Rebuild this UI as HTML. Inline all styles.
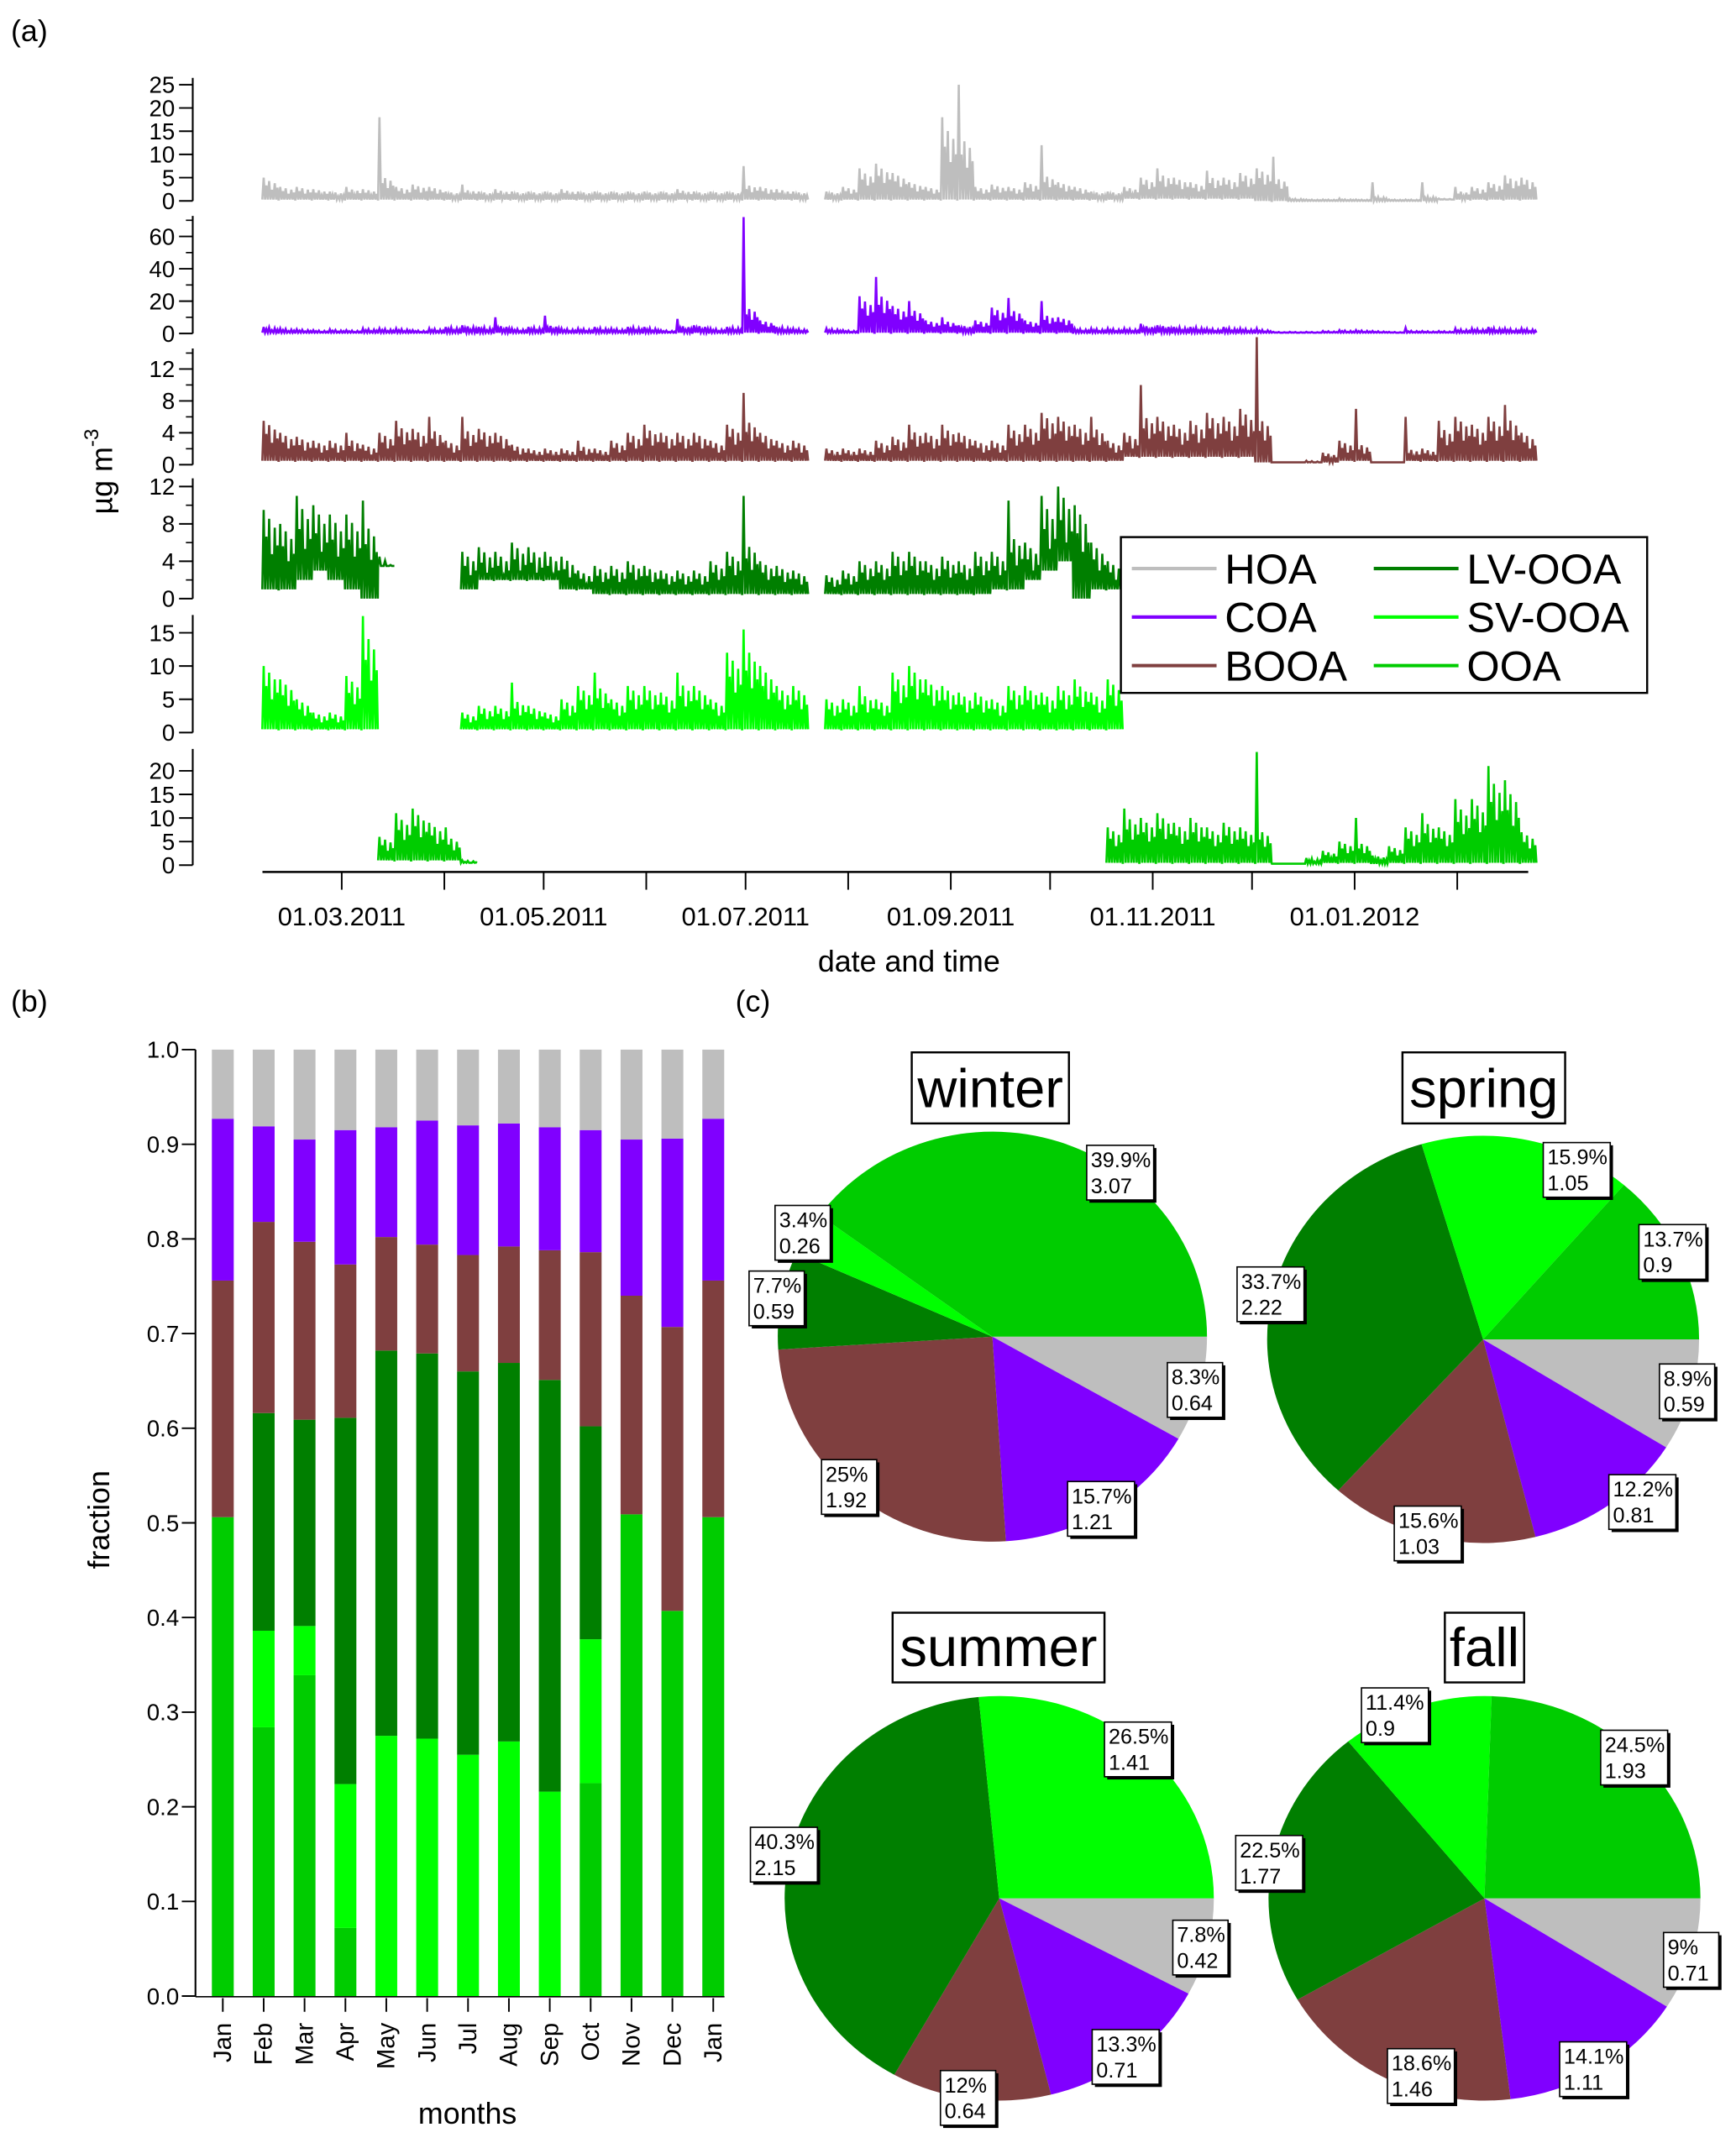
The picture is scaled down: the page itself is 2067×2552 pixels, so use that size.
<!DOCTYPE html>
<html><head><meta charset="utf-8"><style>
html,body{margin:0;padding:0;background:#fff;}
svg{display:block;font-family:"Liberation Sans",sans-serif;}
</style></head><body>
<svg id="fig" width="2067" height="2552" viewBox="0 0 1270 1568" preserveAspectRatio="none" xmlns="http://www.w3.org/2000/svg">
<rect width="1270" height="1568" fill="#fff"/>
<text x="8" y="30" font-size="22">(a)</text>
<text x="8" y="740" font-size="22">(b)</text>
<text x="538" y="740" font-size="22">(c)</text>
<g id="pa"></g>
<g id="pb"></g>
<g id="pc"></g>
</svg>
<script>
// ---------- panel (a) data: 5-day bins starting 5 Feb 2011 ----------
const binStartDay = 4, binDays = 5;
const hoaHi = [5,3,3,2.5,2,3,2.5,18,3,3.5,3,2,3.5,2,2.5,2,2,2,2.5,2,2,2,2,2,2,2.5,2,2,2,7.5,3,2.5,2,null,2,3,7,8,6,4,3,18,25,3,3.5,3,4,12,4,3,2,2,3,5,7,5,4,6.5,5,6,7,9.5,0.5,0.3,0.3,0.5,0.3,4,0.3,0.3,4,0.5,3,3,4,5.5,5,3];
const hoaLo = [0.3,0.3,0.3,0.3,0.3,0.3,0.3,0.3,0.3,0.3,0.3,0.3,0.3,0.3,0.3,0.3,0.3,0.3,0.3,0.3,0.3,0.3,0.3,0.3,0.3,0.3,0.3,0.3,0.3,0.3,0.3,0.3,0.3,null,0.3,0.3,0.3,0.3,0.3,0.3,0.3,0.3,0.3,0.3,0.3,0.3,0.3,0.3,0.3,0.3,0.3,0.3,0.5,0.5,0.5,0.5,0.5,0.5,0.5,0.5,0,0,0,0,0,0,0,0,0,0,0,0.3,0.3,0.3,0.3,0.3,0.3];
const coaHi = [4,3,2.5,2,2.5,2,3,3,3,2,3,4,5,4,10,3,4,11,3,3,4,3,4,4,2,9,5,3,4,72,8,4,3,null,3,2,23,35,17,20,8,10,5,8,16,22,8,20,10,3,3,3,3,6,5,4,4,3,4,3,3,1,1,1,1.5,2,2,1.5,1,3.5,1.5,1.5,3,3,4,3,3];
const coaLo = [0.5,0.5,0.5,0.5,0.5,0.5,0.5,0.5,0.5,0.5,0.5,0.5,0.5,0.5,0.5,0.5,0.5,0.5,0.5,0.5,0.5,0.5,0.5,0.5,0.5,0.5,0.5,0.5,0.5,0.5,0.5,0.5,0.5,null,0.5,0.5,0.5,0.5,0.5,0.5,0.5,0.5,0.5,0.5,0.5,0.5,0.5,0.5,0.5,0.5,0.5,0.5,0.5,0.5,0.5,0.5,0.5,0.5,0.5,0.5,0.5,0.5,0.5,0.5,0.5,0.5,0.5,0.5,0.5,0.5,0.5,0.5,0.5,0.5,0.5,0.5,0.5];
const booaHi = [5.5,4,3.5,3,3,4,2.5,4,5.5,4.5,6,3,6,4.5,4,2.5,2,2,2,3,2,3,4,5,4,4,4,3,5,9,4,3,3,null,2,2,2,3,3.5,5,4,5,4,3,3,5,5,6.5,6,5,6,3,4,10,6,5,5.5,6.5,6,7,16,0.3,0.3,0.5,1.5,3,7,0.3,0.3,6,2,5.5,6,5,6,7.5,4];
const booaLo = [0.5,0.5,0.5,0.5,0.5,0.5,0.5,0.5,0.5,0.5,0.5,0.5,0.5,0.5,0.5,0.5,0.5,0.5,0.5,0.5,0.5,0.5,0.5,0.5,0.5,0.5,0.5,0.5,0.5,0.5,0.5,0.5,0.5,null,0.5,0.5,0.5,0.5,0.5,0.5,0.5,0.5,0.5,0.5,0.5,0.5,0.5,0.5,0.5,0.5,0.5,0.5,1,1,1,1,1,1,1,1,0.3,0.3,0.3,0.3,0.3,0.5,0.5,0.3,0.3,0.5,0.5,0.5,0.5,0.5,0.5,0.5,0.5];
const lvHi = [9.5,8,11,10,9,9,10.5,4.5,null,null,null,null,5,5.5,5,6,5.5,5,4.5,3,3.5,3.5,4,3.5,3,3,3,4,5,11,4,3.5,3,null,2.5,3,4,4,5,5,4,4.5,4,5,5,10.5,6,11,12,10,6,4,null,null,null,null,null,null,null,null,null,null,null,null,null,null,null,null,null,null,null,null,null,null,null,null,null];
const lvLo = [1,1,2,3,2,1,0,3.5,null,null,null,null,1,2,2,2,2,2,1,1,0.5,0.5,0.5,0.5,0.5,0.5,0.5,0.5,0.5,0.5,0.5,0.5,0.5,null,0.5,0.5,0.5,0.5,0.5,0.5,0.5,0.5,0.5,0.5,1,1,2,3,4,0,1,1,null,null,null,null,null,null,null,null,null,null,null,null,null,null,null,null,null,null,null,null,null,null,null,null,null];
const svHi = [10,8,5,3,3,8.5,17.5,null,null,null,null,null,3,4,4,7.5,4,3,5,7,9,5,7,7,6,9,7,5,12,15.5,10,7,7,null,5,5,7,5,9,10,8,7,6,6,5,7,7,6,7,8,6,8,null,null,null,null,null,null,null,null,null,null,null,null,null,null,null,null,null,null,null,null,null,null,null,null,null];
const svLo = [0.5,0.5,0.5,0.5,0.5,0.5,0.5,null,null,null,null,null,0.5,0.5,0.5,0.5,0.5,0.5,0.5,0.5,0.5,0.5,0.5,0.5,0.5,0.5,0.5,0.5,0.5,0.5,0.5,0.5,0.5,null,0.5,0.5,0.5,0.5,0.5,0.5,0.5,0.5,0.5,0.5,0.5,0.5,0.5,0.5,0.5,0.5,0.5,0.5,null,null,null,null,null,null,null,null,null,null,null,null,null,null,null,null,null,null,null,null,null,null,null,null,null];
const ooaHi = [null,null,null,null,null,null,null,6,11,12,9,8,1,null,null,null,null,null,null,null,null,null,null,null,null,null,null,null,null,null,null,null,null,null,null,null,null,null,null,null,null,null,null,null,null,null,null,null,null,null,null,8,12,10,11,9,10,8,9,8,24,0.3,0.3,1.5,3,5,10,2,4,8,11,8,14,14,21,18,7];
const ooaLo = [null,null,null,null,null,null,null,1,1,1,1,1,0.5,null,null,null,null,null,null,null,null,null,null,null,null,null,null,null,null,null,null,null,null,null,null,null,null,null,null,null,null,null,null,null,null,null,null,null,null,null,null,0.5,0.5,0.5,0.5,0.5,0.5,0.5,0.5,0.5,0.5,0.3,0.3,0.3,0.5,0.5,0.5,0.3,0.5,0.5,0.5,0.5,0.5,0.5,0.5,0.5,0.5];
const dateTickLabels = ["01.03.2011","01.05.2011","01.07.2011","01.09.2011","01.11.2011","01.01.2012"];
const monthStartDays = [28,59,89,120,150,181,212,242,273,303,334,365];

// ---------- panel (b) data ----------
const months = ["Jan","Feb","Mar","Apr","May","Jun","Jul","Aug","Sep","Oct","Nov","Dec","Jan"];
const fOOA  = [0.506,0.284,0.339,0.072,0,0,0,0,0,0.225,0.509,0.407,0.506];
const fSV   = [0,0.102,0.052,0.152,0.275,0.272,0.255,0.269,0.216,0.152,0,0,0];
const fLV   = [0,0.230,0.218,0.387,0.407,0.407,0.405,0.400,0.435,0.225,0,0,0];
const fBOOA = [0.250,0.202,0.188,0.162,0.120,0.115,0.123,0.123,0.137,0.184,0.231,0.300,0.250];
const fCOA  = [0.171,0.101,0.108,0.142,0.116,0.131,0.137,0.130,0.130,0.129,0.165,0.199,0.171];
const fHOA  = [0.073,0.081,0.095,0.085,0.082,0.075,0.080,0.078,0.082,0.085,0.095,0.094,0.073];
const fracTicks = ["0.0","0.1","0.2","0.3","0.4","0.5","0.6","0.7","0.8","0.9","1.0"];

// ---------- panel (c) data (order: HOA, COA, BOOA, LV-OOA, SV-OOA, OOA) ----------
const seasons = ["winter","spring","summer","fall"];
const pctWinter = [8.3,15.7,25,7.7,3.4,39.9];
const pctSpring = [8.9,12.2,15.6,33.7,15.9,13.7];
const pctSummer = [7.8,13.3,12,40.3,26.5,0];
const pctFall   = [9,14.1,18.6,22.5,11.4,24.5];
const massWinter = ["0.64","1.21","1.92","0.59","0.26","3.07"];
const massSpring = ["0.59","0.81","1.03","2.22","1.05","0.9"];
const massSummer = ["0.42","0.71","0.64","2.15","1.41",""];
const massFall   = ["0.71","1.11","1.46","1.77","0.9","1.93"];
const pctText = {winter:["8.3%","15.7%","25%","7.7%","3.4%","39.9%"],spring:["8.9%","12.2%","15.6%","33.7%","15.9%","13.7%"],summer:["7.8%","13.3%","12%","40.3%","26.5%",""],fall:["9%","14.1%","18.6%","22.5%","11.4%","24.5%"]};

const COL = ["#bebebe","#8000ff","#7f3f3f","#007f00","#00ff00","#00cc00"];
const NS = "http://www.w3.org/2000/svg";
function mk(tag, attrs, parent){const e=document.createElementNS(NS,tag);for(const k in attrs)e.setAttribute(k,attrs[k]);parent.appendChild(e);return e;}

// ===== panel (a) =====
const pa = document.getElementById('pa');
const xDay = d => 250 + (d-28)*2.4216;
const panels = [
 {name:"hoa",hi:hoaHi,lo:hoaLo,col:COL[0],y0:147,vRef:25,yRef:62,top:57,ticks:[0,5,10,15,20,25],minor:[]},
 {name:"coa",hi:coaHi,lo:coaLo,col:COL[1],y0:244,vRef:60,yRef:173,top:158,ticks:[0,20,40,60],minor:[10,30,50,70]},
 {name:"booa",hi:booaHi,lo:booaLo,col:COL[2],y0:340,vRef:12,yRef:270,top:255,ticks:[0,4,8,12],minor:[2,6,10,14]},
 {name:"lv-ooa",hi:lvHi,lo:lvLo,col:COL[3],y0:438,vRef:12,yRef:356,top:350,ticks:[0,4,8,12],minor:[2,6,10]},
 {name:"sv-ooa",hi:svHi,lo:svLo,col:COL[4],y0:536,vRef:15,yRef:463,top:450,ticks:[0,5,10,15],minor:[]},
 {name:"ooa",hi:ooaHi,lo:ooaLo,col:COL[5],y0:633,vRef:20,yRef:564,top:548,ticks:[0,5,10,15,20],minor:[]}
];
const subFrac = [1, 0.7, 0.9, 0.5, 0.8, 0.6]; // relative heights of sub-strokes within a bin (rendering detail)
panels.forEach(p=>{
  const ys = v => p.y0 - v*(p.y0-p.yRef)/p.vRef;
  const g = mk('g',{},pa);
  
  
  const ax = mk('line',{x1:141,x2:141,y1:p.top,y2:p.y0,stroke:'#000','stroke-width':1.3},g);
  
  
  p.ticks.forEach(t=>{
    mk('line',{x1:131,x2:141,y1:ys(t),y2:ys(t),stroke:'#000','stroke-width':1.2},g);
    const tx = mk('text',{x:128,y:ys(t)+6,'font-size':17,'text-anchor':'end'},g);
    tx.textContent = t;
    
    
  });
  p.minor.forEach(t=>{ if(ys(t)>=p.top) mk('line',{x1:136,x2:141,y1:ys(t),y2:ys(t),stroke:'#000','stroke-width':1},g); });
  let segs=[], cur=[];
  for(let i=0;i<p.hi.length;i++){
    if(p.hi[i]===null){ if(cur.length) segs.push(cur); cur=[]; continue; }
    cur.push(i);
  }
  if(cur.length) segs.push(cur);
  segs.forEach(s=>{
    const pts=[];
    s.forEach((i,k)=>{
      const prev = k>0 ? p.hi[s[k-1]] : p.hi[i];
      const next = k<s.length-1 ? p.hi[s[k+1]] : p.hi[i];
      const base = Math.min(p.hi[i], (prev+next)/2 + 0.15*p.hi[i]);
      const d = binStartDay + i*binDays;
      const n = subFrac.length;
      for(let j=0;j<n;j++){
        const v = j===0 ? p.hi[i] : Math.max(p.lo[i], base*subFrac[j]);
        pts.push(xDay(d + binDays*j/n).toFixed(1)+','+ys(p.lo[i]).toFixed(1));
        pts.push(xDay(d + binDays*(j+0.5)/n).toFixed(1)+','+ys(v).toFixed(1));
      }
      pts.push(xDay(d + binDays*0.98).toFixed(1)+','+ys(p.lo[i]).toFixed(1));
    });
    const pl = mk('polyline',{points:pts.join(' '),fill:'none',stroke:p.col,'stroke-width':1.6,'stroke-linejoin':'miter'},g);
    
    
  });
});
// x axis
const xa = mk('line',{x1:192,x2:1118,y1:638,y2:638,stroke:'#000','stroke-width':1.5},pa);


monthStartDays.forEach((d,i)=>{
  mk('line',{x1:xDay(d),x2:xDay(d),y1:638,y2:651,stroke:'#000','stroke-width':1.2},pa);
  if(i%2===0 && i/2<dateTickLabels.length){
    const t = mk('text',{x:xDay(d),y:677,'font-size':19,'text-anchor':'middle'},pa);
    t.textContent = dateTickLabels[i/2];
    
    
  }
});
{
  const t = mk('text',{x:665,y:711,'font-size':22,'text-anchor':'middle'},pa);
  t.textContent='date and time';
  
  
  const yt = mk('text',{transform:'translate(82,345) rotate(-90)','font-size':22,'text-anchor':'middle'},pa);
  yt.innerHTML='µg m<tspan dy="-10" font-size="15">-3</tspan>';
  
  
}
// legend
{
  const lg = mk('g',{},pa);
  
  
  mk('rect',{x:820,y:393,width:385,height:114,fill:'#fff',stroke:'#000','stroke-width':1.5},lg);
  const names=["HOA","COA","BOOA","LV-OOA","SV-OOA","OOA"];
  names.forEach((n,i)=>{
    const col = i<3?0:1, row=i%3;
    const lx = col===0?828:1005, ly = 416+row*35.5;
    const e = mk('g',{},lg);
    
    
    mk('line',{x1:lx,x2:lx+62,y1:ly,y2:ly,stroke:COL[i],'stroke-width':2.5},e);
    const t = mk('text',{x:lx+68,y:ly+11,'font-size':31},e);
    t.textContent=n;
  });
}

// ===== panel (b) =====
const pb = document.getElementById('pb');
const yF = f => 1460.5 - f*692.5;
const xM = i => 163 + i*29.9;
{
  const ax = mk('line',{x1:143,x2:143,y1:768,y2:1461,stroke:'#000','stroke-width':1.3},pb);
  
  
  fracTicks.forEach((t,i)=>{
    const y=yF(i/10);
    mk('line',{x1:133,x2:143,y1:y,y2:y,stroke:'#000','stroke-width':1.2},pb);
    const tx=mk('text',{x:131,y:y+6,'font-size':17,'text-anchor':'end'},pb);
    tx.textContent=t;
    
    
  });
  const stacks=[fOOA,fSV,fLV,fBOOA,fCOA,fHOA];
  const scol=[COL[5],COL[4],COL[3],COL[2],COL[1],COL[0]];
  const snames=["ooa","sv-ooa","lv-ooa","booa","coa","hoa"];
  months.forEach((m,i)=>{
    let cum=0;
    stacks.forEach((arr,s)=>{
      const v=arr[i]; if(v<=0) return;
      const r=mk('rect',{x:xM(i)-8,y:yF(cum+v),width:16,height:yF(cum)-yF(cum+v),fill:scol[s]},pb);
      
      
      cum+=v;
    });
    mk('line',{x1:xM(i),x2:xM(i),y1:1462,y2:1472,stroke:'#000','stroke-width':1.2},pb);
    const t=mk('text',{transform:`translate(${xM(i)+6},1480) rotate(-90)`,'font-size':18,'text-anchor':'end'},pb);
    t.textContent=m;
    
    
  });
  mk('line',{x1:143,x2:530,y1:1461,y2:1461,stroke:'#000','stroke-width':1},pb);
  const xt=mk('text',{x:342,y:1554,'font-size':22,'text-anchor':'middle'},pb);
  xt.textContent='months';
  
  
  const yt=mk('text',{transform:'translate(80,1112) rotate(-90)','font-size':22,'text-anchor':'middle'},pb);
  yt.textContent='fraction';
  
  
}

// ===== panel (c) =====
const pc = document.getElementById('pc');
const pieDefs = [
 {s:"winter",pct:pctWinter,mass:massWinter,cx:726,cy:978,rx:157,ry:150,title:[667,770,115,52],
  boxes:[[854,997],[781,1084],[601,1068],[548,930],[567,882],[795,838]]},
 {s:"spring",pct:pctSpring,mass:massSpring,cx:1085,cy:980,rx:158,ry:149,title:[1026,770,119,52],
  boxes:[[1214,998],[1177,1079],[1020,1102],[905,927],[1129,836],[1199,896]]},
 {s:"summer",pct:pctSummer,mass:massSummer,cx:731,cy:1389,rx:157,ry:148,title:[653,1180,155,51],
  boxes:[[858,1405],[799,1485],[688,1515],[549,1337],[808,1260],null]},
 {s:"fall",pct:pctFall,mass:massFall,cx:1086,cy:1389,rx:158,ry:148,title:[1057,1180,58,51],
  boxes:[[1217,1414],[1141,1494],[1015,1499],[904,1343],[996,1235],[1171,1266]]}
];
const sliceNames=["hoa","coa","booa","lv-ooa","sv-ooa","ooa"];
pieDefs.forEach(p=>{
  const g=mk('g',{},pc);
  
  
  const total=p.pct.reduce((a,b)=>a+b,0);
  let a0=0;
  p.pct.forEach((v,i)=>{
    if(v<=0) return;
    const a1=a0+v/total*2*Math.PI;
    const x0=p.cx+p.rx*Math.cos(a0), y0=p.cy+p.ry*Math.sin(a0);
    const x1=p.cx+p.rx*Math.cos(a1), y1=p.cy+p.ry*Math.sin(a1);
    const large=(a1-a0)>Math.PI?1:0;
    const path=mk('path',{d:`M${p.cx},${p.cy} L${x0.toFixed(2)},${y0.toFixed(2)} A${p.rx},${p.ry} 0 ${large} 1 ${x1.toFixed(2)},${y1.toFixed(2)} Z`,fill:COL[i]},g);
    
    
    a0=a1;
  });
  const [tx,ty,tw,th]=p.title;
  const tb=mk('rect',{x:tx,y:ty,width:tw,height:th,fill:'#fff',stroke:'#000','stroke-width':1.5},g);
  
  
  const tt=mk('text',{x:tx+tw/2,y:ty+th-12,'font-size':40,'text-anchor':'middle'},g);
  tt.textContent=p.s;
  
  
  p.boxes.forEach((b,i)=>{
    if(!b) return;
    const l1=pctText[p.s][i], l2=p.mass[i];
    const w=Math.max(l1.length,l2.length)*8.6+6;
    const lb=mk('g',{},g);
    
    
    mk('rect',{x:b[0]+2,y:b[1]+2,width:w,height:40,fill:'#000'},lb);
    mk('rect',{x:b[0],y:b[1],width:w,height:40,fill:'#fff',stroke:'#000','stroke-width':1},lb);
    const t1=mk('text',{x:b[0]+3,y:b[1]+16,'font-size':15.5},lb); t1.textContent=l1;
    const t2=mk('text',{x:b[0]+3,y:b[1]+35,'font-size':15.5},lb); t2.textContent=l2;
  });
});
</script>
</body></html>
